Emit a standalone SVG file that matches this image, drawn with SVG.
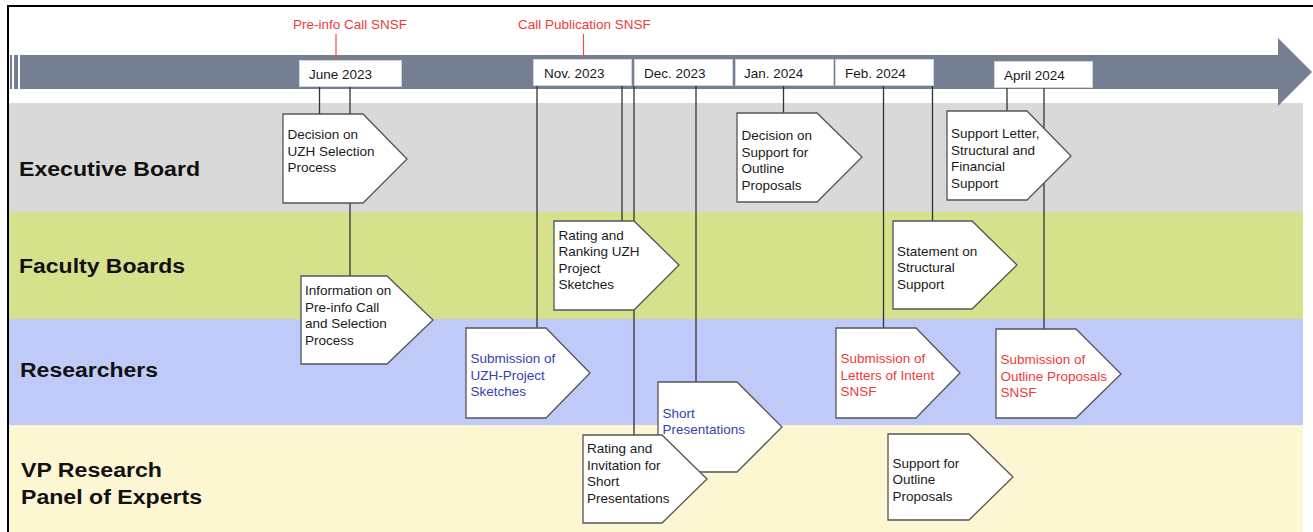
<svg xmlns="http://www.w3.org/2000/svg" width="1313" height="532" viewBox="0 0 1313 532">
<style>
  text { font-family: "Liberation Sans", Arial, sans-serif; }
  .lane-label { font-size: 20px; font-weight: bold; fill: #111; }
  .t { font-size: 13.5px; fill: #1a1a1a; }
  .blue { fill: #3442b0; }
  .red { fill: #f03a3a; }
  .date { fill: #fff; stroke: #cfd4da; stroke-width: 1; }
  .node { fill: #fff; stroke: #555; stroke-width: 1.3; }
  .conn line { stroke: #333; stroke-width: 1.3; }
  .redline { stroke: #f04a4a; stroke-width: 1.2; }
</style>
<rect width="1313" height="532" fill="#fff"/>
<!-- lanes -->
<g id="lanes">
  <rect x="9" y="103" width="1294" height="109" fill="#d9d9d9"/>
  <rect x="9" y="212" width="1294" height="107" fill="#d7e08a"/>
  <rect x="9" y="319" width="1294" height="106" fill="#bfcaf9"/>
  <rect x="9" y="425" width="1294" height="107" fill="#fcf6d2"/>
  <text class="lane-label" x="19" y="176" textLength="181" lengthAdjust="spacingAndGlyphs">Executive Board</text>
  <text class="lane-label" x="19" y="273" textLength="166" lengthAdjust="spacingAndGlyphs">Faculty Boards</text>
  <text class="lane-label" x="20" y="377" textLength="138" lengthAdjust="spacingAndGlyphs">Researchers</text>
  <text class="lane-label" x="21" y="477" textLength="141" lengthAdjust="spacingAndGlyphs">VP Research</text>
  <text class="lane-label" x="21" y="504" textLength="181" lengthAdjust="spacingAndGlyphs">Panel of Experts</text>
</g>
<!-- timeline arrow -->
<g id="timeline">
  <rect x="10" y="55" width="2" height="34" fill="#748091"/>
  <rect x="14" y="55" width="4" height="34" fill="#748091"/>
  <polygon points="20,55 1278,55 1278,38 1312,72 1278,106 1278,89 20,89" fill="#748091"/>
</g>
<!-- red call markers -->
<g id="calls">
  <line class="redline" x1="336" y1="34" x2="336" y2="60"/>
  <text class="t red" x="293" y="29">Pre-info Call SNSF</text>
  <line class="redline" x1="583.5" y1="34" x2="583.5" y2="59"/>
  <text class="t red" x="518" y="29">Call Publication SNSF</text>
</g>
<!-- connectors -->
<g id="connectors" class="conn">
  <line x1="319.5" y1="87" x2="319.5" y2="114"/>
  <line x1="350" y1="87" x2="350" y2="276"/>
  <line x1="537" y1="86" x2="537" y2="328"/>
  <line x1="622" y1="86" x2="622" y2="221"/>
  <line x1="634" y1="86" x2="634" y2="435"/>
  <line x1="696" y1="86" x2="696" y2="382"/>
  <line x1="783.5" y1="86" x2="783.5" y2="113"/>
  <line x1="883.5" y1="86" x2="883.5" y2="328"/>
  <line x1="932.5" y1="86" x2="932.5" y2="221"/>
  <line x1="1007" y1="87" x2="1007" y2="111"/>
  <line x1="1044" y1="87" x2="1044" y2="329"/>
</g>
<!-- date boxes -->
<g id="date-june-2023"><rect class="date" x="299.5" y="60.5" width="102" height="26"/><text class="t" x="309" y="79">June 2023</text></g>
<g id="date-nov-2023"><rect class="date" x="533.5" y="59.5" width="98" height="26"/><text class="t" x="544" y="78">Nov. 2023</text></g>
<g id="date-dec-2023"><rect class="date" x="634.5" y="59.5" width="98" height="26"/><text class="t" x="644" y="78">Dec. 2023</text></g>
<g id="date-jan-2024"><rect class="date" x="735.5" y="59.5" width="98" height="26"/><text class="t" x="744" y="78">Jan. 2024</text></g>
<g id="date-feb-2024"><rect class="date" x="835.5" y="59.5" width="98" height="26"/><text class="t" x="845" y="78">Feb. 2024</text></g>
<g id="date-apr-2024"><rect class="date" x="994.5" y="61.5" width="98" height="26"/><text class="t" x="1004" y="80">April 2024</text></g>
<!-- nodes -->
<g id="n-decision-uzh">
  <polygon class="node" points="283,114 363,114 407,159 363,203 283,203"/>
  <text class="t" x="287.5" y="139"><tspan x="287.5">Decision on</tspan><tspan x="287.5" dy="16.7">UZH Selection</tspan><tspan x="287.5" dy="16.7">Process</tspan></text>
</g>
<g id="n-information">
  <polygon class="node" points="301,276 387,276 433,320 387,364 301,364"/>
  <text class="t" x="305" y="295"><tspan x="305">Information on</tspan><tspan x="305" dy="16.5">Pre-info Call</tspan><tspan x="305" dy="16.5">and Selection</tspan><tspan x="305" dy="16.5">Process</tspan></text>
</g>
<g id="n-rating-ranking">
  <polygon class="node" points="554,221 634,221 679,265 634,310 554,310"/>
  <text class="t" x="558.5" y="240"><tspan x="558.5">Rating and</tspan><tspan x="558.5" dy="16.3">Ranking UZH</tspan><tspan x="558.5" dy="16.3">Project</tspan><tspan x="558.5" dy="16.3">Sketches</tspan></text>
</g>
<g id="n-decision-support">
  <polygon class="node" points="737,113 817,113 862,157 817,202 737,202"/>
  <text class="t" x="741.5" y="140"><tspan x="741.5">Decision on</tspan><tspan x="741.5" dy="16.5">Support for</tspan><tspan x="741.5" dy="16.5">Outline</tspan><tspan x="741.5" dy="16.5">Proposals</tspan></text>
</g>
<g id="n-support-letter">
  <polygon class="node" points="947,111 1027,111 1071,156 1027,200 947,200"/>
  <text class="t" x="951" y="138"><tspan x="951">Support Letter,</tspan><tspan x="951" dy="16.5">Structural and</tspan><tspan x="951" dy="16.5">Financial</tspan><tspan x="951" dy="16.5">Support</tspan></text>
</g>
<g id="n-statement">
  <polygon class="node" points="893,221 972,221 1017,265 972,309 893,309"/>
  <text class="t" x="897" y="256"><tspan x="897">Statement on</tspan><tspan x="897" dy="16.3">Structural</tspan><tspan x="897" dy="16.3">Support</tspan></text>
</g>
<g id="n-submission-uzh">
  <polygon class="node" points="466,328 546,328 590,373 546,418 466,418"/>
  <text class="t blue" x="470.5" y="363"><tspan x="470.5">Submission of</tspan><tspan x="470.5" dy="16.5">UZH-Project</tspan><tspan x="470.5" dy="16.5">Sketches</tspan></text>
</g>
<g id="n-short-presentations">
  <polygon class="node" points="658,382 737,382 782,427 737,472 658,472"/>
  <text class="t blue" x="662.5" y="418"><tspan x="662.5">Short</tspan><tspan x="662.5" dy="16">Presentations</tspan></text>
</g>
<g id="n-rating-invitation">
  <polygon class="node" points="583,435 662,435 707,479 662,523 583,523"/>
  <text class="t" x="587" y="453"><tspan x="587">Rating and</tspan><tspan x="587" dy="16.5">Invitation for</tspan><tspan x="587" dy="16.5">Short</tspan><tspan x="587" dy="16.5">Presentations</tspan></text>
</g>
<g id="n-letters-intent">
  <polygon class="node" points="836,328 916,328 960,373 916,418 836,418"/>
  <text class="t red" x="840.5" y="363"><tspan x="840.5">Submission of</tspan><tspan x="840.5" dy="16.5">Letters of Intent</tspan><tspan x="840.5" dy="16.5">SNSF</tspan></text>
</g>
<g id="n-outline-proposals">
  <polygon class="node" points="996,329 1076,329 1121,374 1076,418 996,418"/>
  <text class="t red" x="1000.5" y="364"><tspan x="1000.5">Submission of</tspan><tspan x="1000.5" dy="16.5">Outline Proposals</tspan><tspan x="1000.5" dy="16.5">SNSF</tspan></text>
</g>
<g id="n-support-outline">
  <polygon class="node" points="888,434 969,434 1013,477 969,520 888,520"/>
  <text class="t" x="892.5" y="468"><tspan x="892.5">Support for</tspan><tspan x="892.5" dy="16.3">Outline</tspan><tspan x="892.5" dy="16.3">Proposals</tspan></text>
</g>
<!-- frame -->
<path d="M8,532 V6 H1313" fill="none" stroke="#000" stroke-width="2"/>
</svg>
